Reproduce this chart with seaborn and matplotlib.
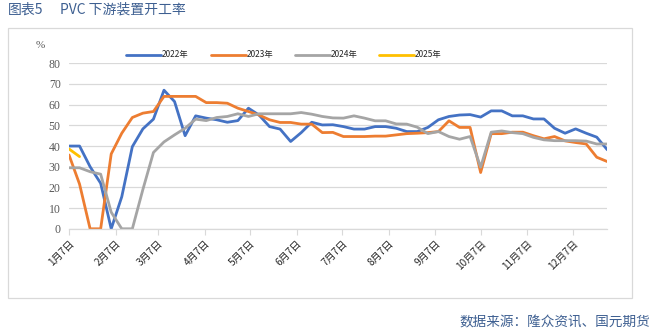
import numpy as np
import pandas as pd
import matplotlib
matplotlib.use("Agg")
import matplotlib.pyplot as plt
from matplotlib.patches import Rectangle
from matplotlib.lines import Line2D
import seaborn as sns

# ---- data (weekly operating rate, %) ----
y2022 = [40, 40, 30, 22, 0, 15.5, 39.7, 48.3, 53, 67, 61.5, 45, 54.6, 53.5, 52.7, 51.5,
         52.3, 58.3, 55, 49.4, 48.2, 42.2, 46.5, 51.5, 50.2, 50.3, 49.4, 48.2, 48.2, 49.4,
         49.4, 48.6, 47, 47, 49, 52.7, 54.3, 55, 55.2, 54, 57, 57, 54.6, 54.6, 53.1, 53.1,
         48.6, 46.2, 48.3, 46.2, 44.3, 38.2]
y2023 = [35.7, 21.6, 0, 0, 36.2, 46.2, 53.8, 55.9, 56.7, 64, 64, 64, 64, 61, 61, 60.7,
         58.3, 56.7, 55, 52.7, 51.4, 51.4, 50.6, 50.6, 46.5, 46.6, 44.6, 44.6, 44.6, 44.8,
         44.8, 45.4, 46, 46.2, 46.5, 47, 52.2, 49, 49, 27.2, 46, 46, 46.7, 46.7, 45, 43.5,
         44.6, 42.5, 41.7, 41, 34.6, 32.5]
y2024 = [29.5, 29.5, 27.6, 26.4, 8, 0, 0, 19, 36.9, 42, 45.4, 48.6, 53, 52.3, 53.8, 54.3,
         55.6, 54.3, 55.6, 55.6, 55.6, 55.6, 56.2, 55.4, 54.3, 53.6, 53.5, 54.6, 53.5, 52.2,
         52.2, 50.7, 50.6, 49.1, 46, 47, 44.6, 43.3, 44.6, 29.8, 46.7, 47.3, 46.5, 46, 44.2,
         43, 42.6, 42.6, 42.6, 42.4, 41, 41]
y2025 = [38.6, 34.9]

series_names = ["2022年", "2023年", "2024年", "2025年"]
series_values = [y2022, y2023, y2024, y2025]
colors = ["#4472C4", "#ED7D31", "#A5A5A5", "#FFC000"]
tick_labels = ["1月7日", "2月7日", "3月7日", "4月7日", "5月7日", "6月7日",
               "7月7日", "8月7日", "9月7日", "10月7日", "11月7日", "12月7日"]
y_ticks = [0, 10, 20, 30, 40, 50, 60, 70, 80]

# weekly dates on a common (non-leap) dummy year
weeks = pd.date_range("2021-01-07", periods=52, freq="7D")
rows = []
for name, vals in zip(series_names, series_values):
    for d, v in zip(weeks[:len(vals)], vals):
        rows.append({"date": d, "value": v, "year": name})
df = pd.DataFrame(rows)

sns.set_theme(style="white")
plt.rcParams["font.family"] = ["Noto Sans CJK SC", "DejaVu Sans"]

fig = plt.figure(figsize=(6.52, 3.33), dpi=100)
ax = fig.add_axes([69 / 652, 1 - 228.8 / 333, (607.3 - 69) / 652, (228.8 - 63.3) / 333])

sns.lineplot(data=df, x="date", y="value", hue="year", palette=colors,
             hue_order=series_names, linewidth=2.0, ax=ax, legend=False)

ax.set_ylim(0, 80)
ax.tick_params(axis="y", length=0, pad=6)
ax.set_yticks(y_ticks, labels=[str(v) for v in y_ticks],
              fontfamily="Liberation Serif", fontsize=8.5, color="#595959")
ax.set_xlim(pd.Timestamp("2021-01-07"), pd.Timestamp("2021-01-07") + pd.Timedelta(days=357))
tick_dates = [pd.Timestamp(2021, m, 7) for m in range(1, 13)]
ax.tick_params(axis="x", length=4, width=0.8, color="#D9D9D9", pad=3, bottom=True)
ax.set_xticks(tick_dates, labels=tick_labels, rotation=45, ha="right", va="top",
              rotation_mode="anchor", fontsize=7.3, color="#262626")
ax.set_xlabel("")
ax.set_ylabel("")
ax.grid(axis="y", color="#D9D9D9", linewidth=0.9)
ax.set_axisbelow(True)
for s in ["left", "right", "top"]:
    ax.spines[s].set_visible(False)
ax.spines["bottom"].set_color("#D9D9D9")
ax.spines["bottom"].set_linewidth(0.9)

# legend
handles = [Line2D([], [], color=c, lw=2.0) for c in colors]
fig.legend(handles, series_names, loc="center", bbox_to_anchor=(284 / 652, 1 - 55 / 333),
           ncol=4, frameon=False, fontsize=6, handlelength=4.2, columnspacing=2.6,
           handletextpad=0.1)

fig.text(36 / 652, 1 - 46 / 333, "%", fontsize=8, color="#595959",
         family="Liberation Serif", ha="left", va="center")

# border and texts
fig.patches.append(Rectangle((8 / 652, 1 - 298 / 333), (632 - 8) / 652, (298 - 28) / 333,
                             transform=fig.transFigure, fill=False,
                             edgecolor="#D9D9D9", linewidth=0.9))
fig.text(8 / 652, 1 - 10 / 333, "图表5", fontsize=10,
         color="#3D5F91", ha="left", va="center")
fig.text(60 / 652, 1 - 10 / 333, "PVC 下游装置开工率", fontsize=10,
         color="#3D5F91", ha="left", va="center")
fig.text(650 / 652, 1 - 322 / 333, "数据来源：隆众资讯、国元期货", fontsize=9.8,
         color="#3D5F91", ha="right", va="center")

fig.savefig("out.png", dpi=100)
